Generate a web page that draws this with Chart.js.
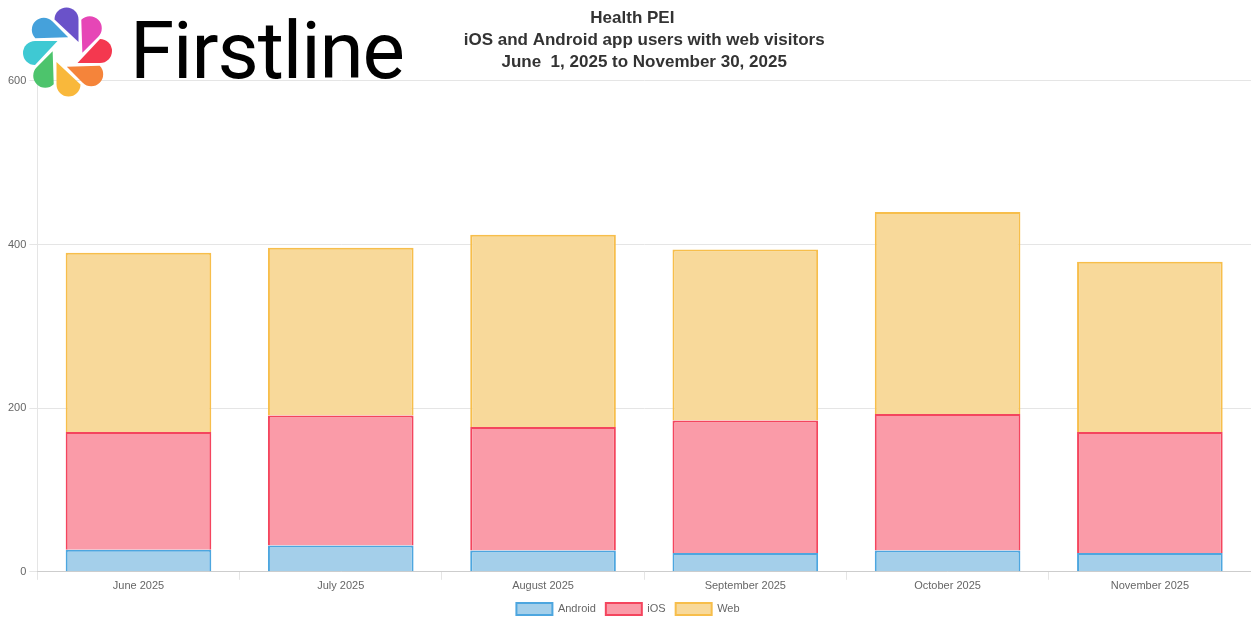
<!DOCTYPE html>
<html>
<head>
<meta charset="utf-8">
<script src="https://cdn.jsdelivr.net/npm/chart.js@4.4.1/dist/chart.umd.min.js"></script>
<style>
  html, body { margin: 0; padding: 0; background: #fff; }
  #wrap { position: relative; width: 1251px; height: 620px; }
  #logo { position: absolute; left: 0; top: 0; z-index: 2; }
</style>
</head>
<body>
<div id="wrap">
  <canvas id="c" width="1251" height="620"></canvas>
  <svg id="logo" width="420" height="105" xmlns="http://www.w3.org/2000/svg"></svg>
</div>
<script>
const categories = ["June 2025", "July 2025", "August 2025", "September 2025", "October 2025", "November 2025"];
const androidUsers = [27, 32, 26, 23, 26, 23];
const iosUsers = [144, 159, 151, 162, 167, 148];
const webVisitors = [219, 205, 235, 209, 247, 208];
const yTicks = [0, 200, 400, 600];
const titleLines = ["Health PEI     ", "iOS and Android app users with web visitors", "June  1, 2025 to November 30, 2025"];
const petalColors = ["#6A52C9", "#E646B6", "#F4384F", "#F5843A", "#F9B83B", "#4DC46C", "#3FC9D3", "#45A1DB"];

// Logo
const svg = document.getElementById('logo');
const ns = 'http://www.w3.org/2000/svg';
const cx = 67.5, cy = 52;
petalColors.forEach((col, i) => {
  const ang = -90 + i * 45;
  const p = document.createElementNS(ns, 'path');
  p.setAttribute('d', 'M10,11 L32.5,11 A12,12 0 0 0 32.5,-13 Z');
  p.setAttribute('fill', col);
  p.setAttribute('transform', `translate(${cx},${cy}) rotate(${ang})`);
  svg.appendChild(p);
});
const t = document.createElementNS(ns, 'text');
t.setAttribute('x', '130');
t.setAttribute('y', '78');
t.setAttribute('font-family', 'Roboto, Inter, sans-serif');
t.setAttribute('font-size', '80');
t.setAttribute('fill', '#000');
t.setAttribute('textLength', '275');
t.setAttribute('lengthAdjust', 'spacing');
t.textContent = 'Firstline';
svg.appendChild(t);

const FONT = "'Liberation Sans', Arial, sans-serif";
new Chart(document.getElementById('c'), {
  type: 'bar',
  data: {
    labels: categories,
    datasets: [
      { label: 'Android', data: androidUsers, backgroundColor: '#A4CFEA', borderColor: '#4DA6DF', borderWidth: 2 },
      { label: 'iOS', data: iosUsers, backgroundColor: '#FA9BA8', borderColor: '#F4455E', borderWidth: 2 },
      { label: 'Web', data: webVisitors, backgroundColor: '#F8D99A', borderColor: '#F7BE4B', borderWidth: 2 }
    ]
  },
  options: {
    responsive: false,
    animation: false,
    layout: { padding: { left: 5, right: 0, top: 0, bottom: -5 } },
    plugins: {
      title: {
        display: true,
        text: titleLines,
        fullSize: false,
        color: '#333',
        font: { family: FONT, size: 17, weight: 'bold', lineHeight: 1.294 },
        padding: { top: 7, bottom: 8 }
      },
      legend: {
        position: 'bottom',
        labels: { font: { family: FONT, size: 11 }, color: '#666', boxWidth: 36, boxHeight: 12 }
      },
      tooltip: { enabled: false }
    },
    scales: {
      x: {
        stacked: true,
        grid: { drawOnChartArea: false, color: '#e5e5e5' },
        ticks: { font: { family: FONT, size: 11 }, color: '#666', padding: 0 }
      },
      y: {
        stacked: true,
        min: yTicks[0],
        max: yTicks[yTicks.length - 1],
        afterBuildTicks: (s) => { s.ticks = yTicks.map(v => ({ value: v })); },
        grid: { color: '#e5e5e5' },
        ticks: { font: { family: FONT, size: 11 }, color: '#666' }
      }
    }
  }
});
</script>
</body>
</html>
